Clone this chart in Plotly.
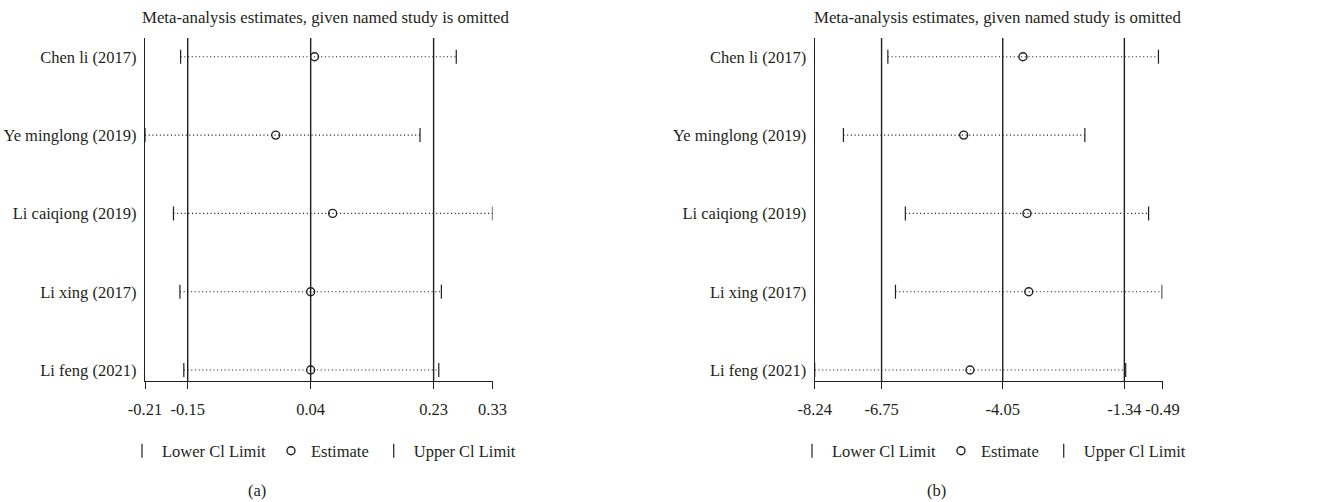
import plotly.graph_objects as go

studies = ["Chen li (2017)", "Ye minglong (2019)", "Li caiqiong (2019)", "Li xing (2017)", "Li feng (2021)"]

# Panel (a)
a_lower = [-0.161, -0.216, -0.172, -0.162, -0.156]
a_est = [0.046, -0.014, 0.074, 0.040, 0.040]
a_upper = [0.265, 0.209, 0.321, 0.242, 0.238]
a_overall = [-0.150, 0.040, 0.230]          # lower CI, estimate, upper CI
a_axis_vals = [-0.216, -0.150, 0.040, 0.230, 0.321]
a_axis_text = ["-0.21", "-0.15", "0.04", "0.23", "0.33"]

# Panel (b)
b_lower = [-6.61, -7.60, -6.22, -6.44, -8.24]
b_est = [-3.60, -4.92, -3.51, -3.47, -4.78]
b_upper = [-0.58, -2.22, -0.80, -0.50, -1.31]
b_overall = [-6.75, -4.05, -1.34]
b_axis_vals = [-8.24, -6.75, -4.05, -1.34, -0.49]
b_axis_text = ["-8.24", "-6.75", "-4.05", "-1.34", "-0.49"]

title_text = "Meta-analysis estimates, given named study is omitted"
captions = ["(a)", "(b)"]

INK = "#231f20"
FONT = "Liberation Serif"

fig = go.Figure()

nrows = len(studies)
ypos = list(range(nrows - 1, -1, -1))  # Chen li on top

panels = [
    dict(lower=a_lower, est=a_est, upper=a_upper, overall=a_overall,
         tv=a_axis_vals, tt=a_axis_text, xa="x", ya="y", legend="legend",
         dom=[145 / 1326, 492.5 / 1326]),
    dict(lower=b_lower, est=b_est, upper=b_upper, overall=b_overall,
         tv=b_axis_vals, tt=b_axis_text, xa="x2", ya="y2", legend="legend2",
         dom=[814.7 / 1326, 1162.5 / 1326]),
]

y_range = [-0.14, 4.24]

for p in panels:
    # vertical reference lines (overall CI and estimate)
    for v in p["overall"]:
        fig.add_trace(go.Scatter(x=[v, v], y=y_range, mode="lines",
                                 line=dict(color=INK, width=1.4),
                                 xaxis=p["xa"], yaxis=p["ya"], showlegend=False,
                                 hoverinfo="skip"))
    # dotted CI lines
    xs, ys = [], []
    for lo, up, yy in zip(p["lower"], p["upper"], ypos):
        xs += [lo, up, None]
        ys += [yy, yy, None]
    fig.add_trace(go.Scatter(x=xs, y=ys, mode="lines",
                             line=dict(color=INK, width=1.1, dash="1.1px,2.6px"),
                             xaxis=p["xa"], yaxis=p["ya"], showlegend=False,
                             hoverinfo="skip"))
    fig.add_trace(go.Scatter(x=p["lower"], y=ypos, mode="markers", name="Lower Cl Limit",
                             marker=dict(symbol="line-ns-open", size=10, color=INK,
                                         line=dict(color=INK, width=1.2)),
                             xaxis=p["xa"], yaxis=p["ya"], legend=p["legend"]))
    fig.add_trace(go.Scatter(x=p["est"], y=ypos, mode="markers", name="Estimate",
                             marker=dict(symbol="circle-open", size=8, color=INK,
                                         line=dict(color=INK, width=1.4)),
                             xaxis=p["xa"], yaxis=p["ya"], legend=p["legend"]))
    fig.add_trace(go.Scatter(x=p["upper"], y=ypos, mode="markers", name="Upper Cl Limit",
                             marker=dict(symbol="line-ns-open", size=10, color=INK,
                                         line=dict(color=INK, width=1.2)),
                             xaxis=p["xa"], yaxis=p["ya"], legend=p["legend"]))

xaxis_common = dict(showgrid=False, zeroline=False, showline=True, linecolor=INK,
                    linewidth=1.4, ticks="outside", ticklen=7, tickwidth=1.3,
                    tickcolor=INK, tickfont=dict(family=FONT, size=16.5, color=INK),
                    ticklabelstandoff=6, automargin=False)
yaxis_common = dict(showgrid=False, zeroline=False, showline=True, linecolor=INK,
                    linewidth=1.4, ticks="", range=y_range,
                    tickvals=ypos, ticktext=studies, ticklabelstandoff=4,
                    tickfont=dict(family=FONT, size=16.5, color=INK),
                    automargin=False,
                    domain=[1 - 381 / 502, 1 - 38 / 502])

fig.update_layout(
    width=1326, height=502,
    margin=dict(l=0, r=0, t=0, b=0, autoexpand=False),
    paper_bgcolor="white", plot_bgcolor="white",
    font=dict(family=FONT, size=16, color=INK),
    xaxis=dict(**xaxis_common, anchor="y", domain=panels[0]["dom"],
               range=[a_axis_vals[0], a_axis_vals[-1]],
               tickvals=a_axis_vals, ticktext=a_axis_text),
    yaxis=dict(**yaxis_common, anchor="x"),
    xaxis2=dict(**xaxis_common, anchor="y2", domain=panels[1]["dom"],
                range=[b_axis_vals[0], b_axis_vals[-1]],
                tickvals=b_axis_vals, ticktext=b_axis_text),
    yaxis2=dict(**yaxis_common, anchor="x2"),
    legend=dict(orientation="h", x=122 / 1326, y=1 - 451 / 502, xanchor="left",
                yanchor="middle", font=dict(family=FONT, size=16.5, color=INK),
                bgcolor="rgba(0,0,0,0)", itemclick=False),
    legend2=dict(orientation="h", x=792 / 1326, y=1 - 451 / 502, xanchor="left",
                 yanchor="middle", font=dict(family=FONT, size=16.5, color=INK),
                 bgcolor="rgba(0,0,0,0)", itemclick=False),
    showlegend=True,
)

for cx in (325, 997):
    fig.add_annotation(text=title_text, xref="paper", yref="paper",
                       x=cx / 1326, y=1 - 18 / 502, showarrow=False,
                       xanchor="center", yanchor="middle",
                       font=dict(family=FONT, size=16.8, color=INK))
for cap, cx in zip(captions, (257, 936)):
    fig.add_annotation(text=cap, xref="paper", yref="paper",
                       x=cx / 1326, y=1 - 490 / 502, showarrow=False,
                       xanchor="center", yanchor="middle",
                       font=dict(family=FONT, size=16.5, color=INK))

fig.write_html("out.html")
